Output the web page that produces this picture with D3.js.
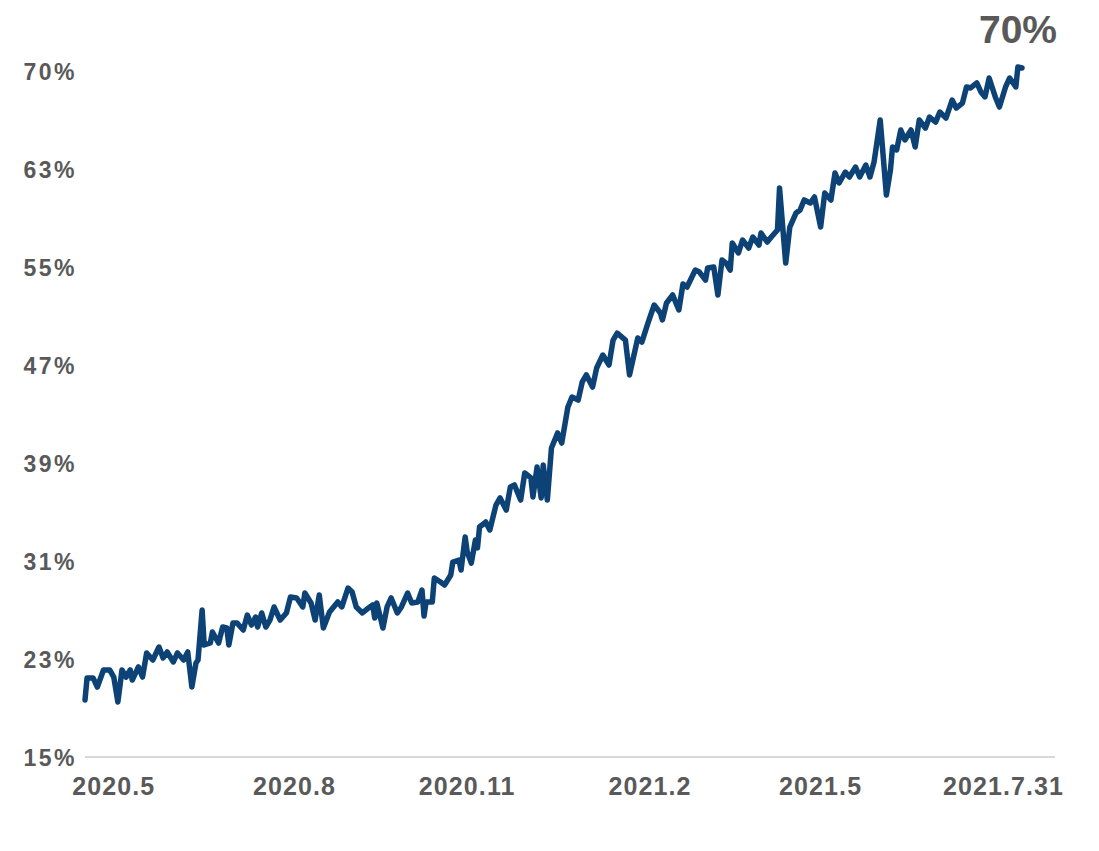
<html>
<head>
    <meta charset="utf-8">
    <title>Share over time</title>
    <script src="https://d3js.org/d3.v7.min.js"></script>
    <style>
        body { margin: 0; background: #fff; }
        .tickLabel {
            font-family: "Liberation Sans", Arial, sans-serif;
            font-weight: bold;
            fill: #595959;
        }
    </style>
</head>
<body>
<svg id="chart" width="1099" height="851"></svg>
<script>
    // day offset from the first observation, and the share (%) read for that day
    const days = [0, 1, 4, 6, 9, 12, 14, 16, 18, 20, 22, 23, 26, 28, 30, 33, 36, 38, 40, 43,
        45, 48, 50, 52, 54, 55, 57, 58, 61, 62, 65, 67, 69, 70, 72, 74, 77, 79, 81, 83,
        84, 86, 88, 90, 92, 95, 98, 100, 103, 106, 107, 110, 112, 114, 116, 119, 123, 125, 128, 130,
        132, 135, 138, 140, 141, 142, 145, 147, 149, 152, 154, 157, 159, 162, 164, 165, 166, 169, 170, 173,
        175, 178, 179, 182, 183, 185, 186, 188, 190, 191, 192, 195, 197, 200, 202, 205, 207, 209, 212, 214,
        217, 218, 220, 222, 223, 225, 227, 230, 232, 235, 237, 240, 242, 244, 247, 249, 252, 255, 257, 259,
        263, 265, 269, 271, 274, 277, 280, 281, 283, 286, 289, 291, 293, 297, 299, 302, 303, 306, 308, 310,
        312, 314, 315, 318, 320, 323, 325, 328, 329, 332, 334, 337, 338, 341, 343, 346, 348, 350, 353, 355,
        358, 360, 363, 365, 367, 370, 372, 375, 377, 380, 382, 384, 387, 390, 392, 393, 395, 397, 399, 402,
        404, 406, 409, 411, 414, 416, 419, 422, 424, 427, 429, 431, 434, 436, 438, 440, 443, 445, 448, 450,
        453, 454, 456];

    const share = [19.65, 21.41, 21.41, 20.69, 22.06, 22.06, 21.49, 19.49, 22.06, 21.49, 22.06, 21.25, 22.30, 21.49, 23.42, 22.86, 23.90, 23.02, 23.50, 22.70,
        23.42, 22.86, 23.50, 20.69, 22.62, 22.86, 26.87, 24.06, 24.22, 25.10, 24.22, 25.50, 25.42, 24.06, 25.82, 25.82, 25.26, 26.46, 25.66, 26.30,
        25.50, 26.63, 25.50, 26.06, 27.11, 26.06, 26.63, 27.91, 27.83, 27.11, 28.23, 27.43, 26.06, 28.07, 25.42, 26.71, 27.51, 27.11, 28.63, 28.31,
        27.11, 26.63, 27.03, 27.27, 26.22, 27.43, 25.42, 27.11, 27.83, 26.63, 27.11, 28.23, 27.43, 27.51, 28.47, 26.38, 27.51, 27.51, 29.43, 29.11,
        28.87, 29.67, 30.71, 30.87, 30.07, 32.72, 31.52, 30.63, 32.48, 31.84, 33.52, 33.92, 33.28, 35.28, 35.85, 34.88, 36.73, 36.89, 35.68, 37.85,
        37.45, 35.93, 38.33, 35.85, 38.49, 35.68, 39.85, 41.06, 40.25, 43.14, 43.94, 43.70, 45.15, 45.71, 44.74, 46.27, 47.31, 46.51, 48.51, 49.07,
        48.51, 45.71, 48.67, 48.35, 49.88, 51.32, 50.68, 50.12, 51.48, 52.12, 50.92, 53.00, 52.76, 54.12, 53.96, 53.32, 54.28, 54.36, 52.12, 54.93,
        54.68, 54.12, 56.29, 55.49, 56.53, 55.89, 56.77, 56.13, 57.09, 56.37, 56.77, 57.33, 60.70, 54.68, 57.57, 58.69, 58.93, 59.74, 59.50, 59.98,
        57.57, 60.30, 59.74, 61.90, 61.10, 61.98, 61.58, 62.38, 61.58, 62.54, 61.58, 62.78, 66.15, 60.14, 62.18, 63.99, 63.75, 65.35, 64.55, 65.35,
        63.99, 66.15, 65.51, 66.39, 65.99, 66.79, 66.31, 67.75, 67.11, 67.51, 68.80, 68.72, 69.12, 68.40, 68.00, 69.52, 68.00, 67.19, 68.80, 69.52,
        68.80, 70.40, 70.32];

    const yTickLabels = ["15%", "23%", "31%", "39%", "47%", "55%", "63%", "70%"];
    const xTickLabels = ["2020.5", "2020.8", "2020.11", "2021.2", "2021.5", "2021.7.31"];
    const xTickDays = [14, 102, 186, 275, 358, 447];
    const lastLabel = "70%";

    const svg = d3.select("#chart");
    const margin = {top: 72, right: 44, bottom: 93, left: 85};
    const width = +svg.attr("width");
    const height = +svg.attr("height");

    const yMin = 15, yMax = 70;
    const x = d3.scaleLinear()
        .domain([0, 456])
        .range([margin.left, 1022]);
    const y = d3.scaleLinear()
        .domain([yMin, yMax])
        .range([height - margin.bottom, margin.top]);

    // baseline axis
    svg.append("line")
        .attr("x1", margin.left)
        .attr("x2", width - margin.right)
        .attr("y1", y(yMin) - 1)
        .attr("y2", y(yMin) - 1)
        .attr("stroke", "#d9d9d9")
        .attr("stroke-width", 2);

    // y labels, evenly spread over the domain
    const yStep = (yMax - yMin) / (yTickLabels.length - 1);
    svg.selectAll("text.yLabel")
        .data(yTickLabels)
        .join("text")
        .attr("class", "tickLabel yLabel")
        .attr("x", 77)
        .attr("y", (d, i) => y(yMin + i * yStep))
        .attr("dy", "0.36em")
        .attr("text-anchor", "end")
        .attr("font-size", 23)
        .attr("letter-spacing", 2.5)
        .text(d => d);

    svg.selectAll("text.xLabel")
        .data(xTickLabels)
        .join("text")
        .attr("class", "tickLabel xLabel")
        .attr("x", (d, i) => x(xTickDays[i]))
        .attr("y", 795)
        .attr("text-anchor", "middle")
        .attr("font-size", 25)
        .attr("letter-spacing", 1.1)
        .text(d => d);

    const line = d3.line()
        .x((d, i) => x(days[i]))
        .y(d => y(d));

    svg.append("path")
        .datum(share)
        .attr("fill", "none")
        .attr("stroke", "#0d4277")
        .attr("stroke-width", 5.5)
        .attr("stroke-linejoin", "round")
        .attr("stroke-linecap", "round")
        .attr("d", line);

    // value called out at the end of the line
    svg.append("text")
        .attr("class", "tickLabel")
        .attr("x", 1018)
        .attr("y", 43)
        .attr("text-anchor", "middle")
        .attr("font-size", 39)
        .text(lastLabel);
</script>
</body>
</html>
